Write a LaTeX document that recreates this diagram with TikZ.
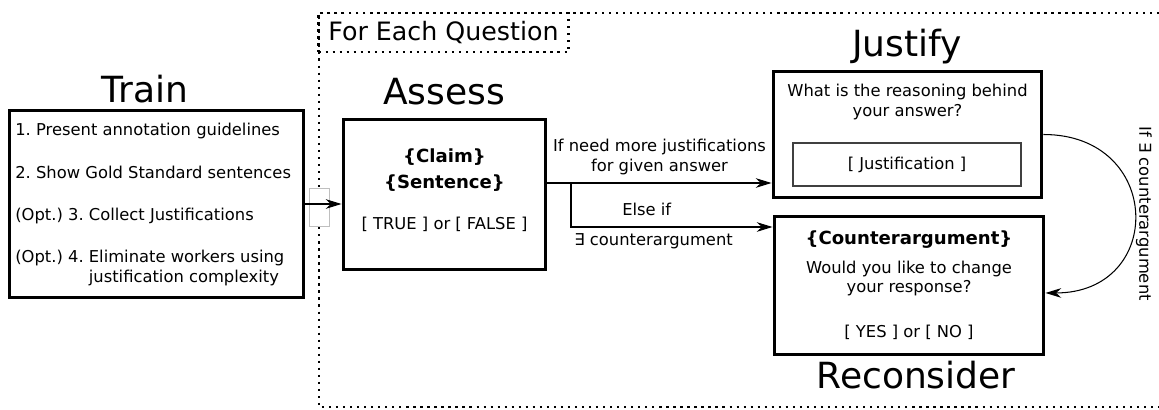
\documentclass[tikz,border=0pt]{standalone}
\usepackage{fontspec}
\setmainfont{DejaVu Sans}
\usepackage{tikz}
\usetikzlibrary{arrows.meta,positioning}
\frenchspacing

\begin{document}
\begin{tikzpicture}[
    x=0.02cm, y=-0.02cm,
    stage/.style={
        draw=black,
        line width=1.7pt,
        inner sep=0pt
    },
    title/.style={
        font=\fontsize{20.5}{24}\selectfont,
        anchor=base,
        inner sep=0pt
    },
    body/.style={
        font=\fontsize{9.3}{11.3}\selectfont,
        align=center
    },
    bold/.style={
        font=\fontsize{10.3}{14.7}\selectfont\bfseries,
        align=center
    },
    qframe/.style={line width=1.3pt, dash pattern=on 1.3pt off 2.7pt},
    arrow/.style={-{Stealth[length=9pt,width=5.5pt]}, line width=0.6pt}
]
\useasboundingbox (0,0) rectangle (1159,409);

% question frame
\draw[qframe] (1159,13) -- (319,13) -- (319,407) -- (1159,407);
\node[draw, qframe, minimum width=5cm, minimum height=0.78cm,
      font=\fontsize{14.4}{16}\selectfont] (each) at (443.5,32.5) {For Each Question};

% train
\node[stage, minimum width=5.9cm, minimum height=3.76cm] (train) at (156.5,204) {};
\node[title] (traintitle) at (145,102) {Train};
\node[body, align=left, anchor=north west, inner sep=0pt] (steps) at (15,123)
    {1. Present annotation guidelines\\[12.8pt]2. Show Gold Standard sentences\\[12.8pt](Opt.) 3. Collect Justifications\\[12.8pt](Opt.) 4. Eliminate workers using\\\phantom{(Opt.) 4. }justification complexity};

% assess
\node[stage, minimum width=4.06cm, minimum height=3.02cm] (assess) at (444.5,194.5) {};
\node[title] (assesstitle) at (444,104) {Assess};
\node[bold] (claim) at (444.5,170) {\{Claim\}\\\{Sentence\}};
\node[body] (truefalse) at (444.5,224) {[ TRUE ] or [ FALSE ]};

% justify
\node[stage, minimum width=5.38cm, minimum height=2.54cm] (justify) at (907.5,134.5) {};
\node[title] (justifytitle) at (907,56) {Justify};
\node[body] (reason) at (907.5,102) {What is the reasoning behind\\your answer?};
\node[body, draw=black!75, line width=0.9pt, minimum width=4.56cm,
      minimum height=0.86cm] (slot) at (907,164.5) {[ Justification ]};

% reconsider
\node[stage, minimum width=5.4cm, minimum height=2.78cm] (recons) at (909,285.5) {};
\node[title] (reconstitle) at (916,388) {Reconsider};
\node[bold] (counter) at (909,240) {\{Counterargument\}};
\node[body] (change) at (909,278.5) {Would you like to change\\your response?};
\node[body] (yesno) at (909,332) {[ YES ] or [ NO ]};

% gate on the frame
\node[draw=black!25, fill=white, line width=0.5pt, minimum width=0.4cm,
      minimum height=0.76cm, inner sep=0pt] (gate) at (319,207) {};

\coordinate (split) at (571,183);
\coordinate (elseif) at (571,227);

\draw[arrow] (train.east) -- (train.east -| assess.west);
\draw[arrow] (split -| assess.east) --
    node[body, above=1pt] {If need more justifications\\for given answer}
    (split -| justify.west);
\draw[arrow] (split) -- (elseif) --
    node[body, above=3pt, pos=0.376] {Else if}
    node[body, below, pos=0.41] {∃ counterargument}
    (elseif -| recons.west);
\draw[arrow] (justify.east) .. controls +(120,0) and +(120,0) ..
    node[body, rotate=-90, anchor=south, inner sep=0.5pt] {If ∃ counterargument}
    ([yshift=-4.25pt]recons.east);

\end{tikzpicture}
\end{document}
